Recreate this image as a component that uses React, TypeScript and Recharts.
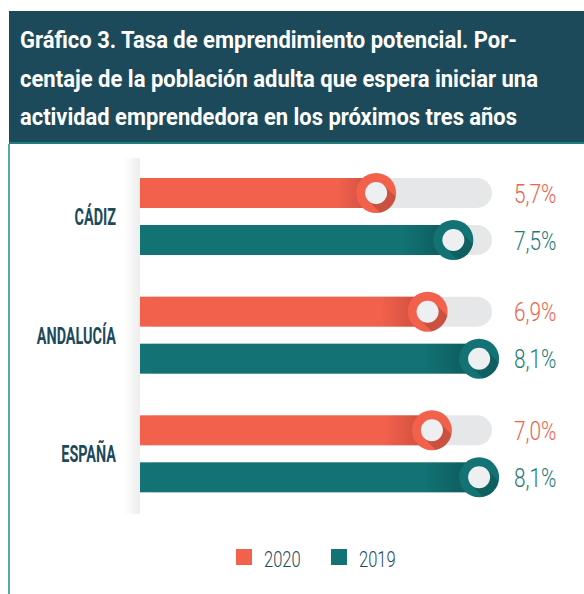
import { Bar, BarChart, LabelList, XAxis, YAxis } from "recharts";

const categories = ["CÁDIZ", "ANDALUCÍA", "ESPAÑA"];
const values2020 = [5.7, 6.9, 7.0];
const values2019 = [7.5, 8.1, 8.1];
const titleLines = [
  "Gráfico 3. Tasa de emprendimiento potencial. Por-",
  "centaje de la población adulta que espera iniciar una",
  "actividad emprendedora en los próximos tres años",
];

const series = [
  { key: "y2020", name: "2020", color: "#f1614c", dark: "#c94a3c", text: "#f1614c" },
  { key: "y2019", name: "2019", color: "#127274", dark: "#0d5758", text: "#1f7a78" },
];

const data = categories.map((name, i) => ({ name, y2020: values2020[i], y2019: values2019[i] }));

const NAVY = "#1d4a5a";
const fmt = (v: number) => `${v.toFixed(1).replace(".", ",")}%`;

function PillBar(props: any) {
  const { x, y, width, height, index, dataKey, fill } = props;
  const s = series.find((d) => d.key === dataKey)!;
  const cx = x + width;
  const cy = y + height / 2;
  const id = `clip-${dataKey}-${index}`;
  const t = 7.8;
  const pts = `${cx + t},${cy - t} ${cx - t},${cy + t} ${cx - t + 30},${cy + t + 30} ${cx + t + 30},${cy - t + 30}`;
  return (
    <g>
      <rect x={x} y={y} width={width} height={height} fill={`url(#grad-${dataKey})`} />
      <clipPath id={id}>
        <circle cx={cx} cy={cy} r={20} />
      </clipPath>
      <circle cx={cx} cy={cy} r={20} fill={fill || s.color} />
      <polygon points={pts} fill="#000" opacity={0.16} clipPath={`url(#${id})`} />
      <circle cx={cx} cy={cy} r={11} fill="#eeeff1" />
    </g>
  );
}

function Track(props: any) {
  const { x, y, width, height } = props;
  return <rect x={x} y={y} width={width} height={height} rx={height / 2} fill="#e6e7e9" />;
}

function CatTick(props: any) {
  const { y, payload } = props;
  return (
    <text
      transform={`translate(116, ${y + 8.5}) scale(0.6, 1)`}
      textAnchor="end"
      fill={NAVY}
      fontFamily="Roboto"
      fontWeight={700}
      fontSize={24}
    >
      {payload.value}
    </text>
  );
}

function valueLabel(color: string) {
  return (p: any) => (
    <text
      transform={`translate(514, ${p.y + p.height / 2 + 9.5}) scale(0.8, 1)`}
      fill={color}
      fontFamily="Roboto"
      fontWeight={300}
      fontSize={26}
    >
      {fmt(p.value)}
    </text>
  );
}

export default function App() {
  return (
    <div style={{ position: "relative", width: 584, height: 594, background: "#fff", overflow: "hidden" }}>
      <style>{"body{margin:0}"}</style>
      <BarChart
        width={584}
        height={594}
        data={data}
        layout="vertical"
        barSize={30}
        barGap={17}
        margin={{ top: 157, right: 92, bottom: 81, left: 0 }}
      >
        <defs>
          {series.map((s) => (
            <linearGradient key={s.key} id={`grad-${s.key}`} x1="0" x2="1" y1="0" y2="0">
              <stop offset="0.84" stopColor={s.color} />
              <stop offset="1" stopColor={s.dark} />
            </linearGradient>
          ))}
        </defs>
        <XAxis type="number" domain={[0.2, 8.4]} hide />
        <YAxis type="category" dataKey="name" width={140} axisLine={false} tickLine={false} tick={<CatTick />} />
        {series.map((s) => (
          <Bar
            key={s.key}
            dataKey={s.key}
            name={s.name}
            fill={s.color}
            background={<Track />}
            shape={<PillBar />}
            isAnimationActive={false}
          >
            <LabelList dataKey={s.key} content={valueLabel(s.text)} />
          </Bar>
        ))}
      </BarChart>

      {/* title block */}
      <div
        style={{
          position: "absolute",
          left: 9,
          top: 11,
          width: 575,
          height: 131,
          background: NAVY,
          borderBottom: "2px solid #1f7d7a",
        }}
      />
      <svg style={{ position: "absolute", left: 0, top: 0 }} width={584} height={150}>
        {titleLines.map((line, i) => (
          <text
            key={i}
            x={20}
            y={48 + i * 38.5}
            textLength={[497, 518, 497][i]}
            lengthAdjust="spacingAndGlyphs"
            fill="#fff"
            fontFamily="Roboto"
            fontWeight={700}
            fontSize={24}
          >
            {line}
          </text>
        ))}
      </svg>

      {/* left rule and shadow column */}
      <div style={{ position: "absolute", left: 8, top: 144, width: 2, height: 450, background: "#5aa8a3" }} />
      <div
        style={{
          position: "absolute",
          left: 124,
          top: 158,
          width: 16,
          height: 356,
          background: "linear-gradient(to right, rgba(0,0,0,0), rgba(0,0,0,0.07))",
        }}
      />

      {/* legend */}
      <svg style={{ position: "absolute", left: 0, top: 540 }} width={584} height={40}>
        {series.map((s, i) => (
          <g key={s.key} transform={`translate(${236 + i * 95}, 9)`}>
            <rect x={0} y={0} width={16} height={16} fill={s.color} />
            <text
              transform="translate(28, 18) scale(0.75, 1)"
              fill={NAVY}
              fontFamily="Roboto"
              fontWeight={300}
              fontSize={22}
            >
              {s.name}
            </text>
          </g>
        ))}
      </svg>
    </div>
  );
}
